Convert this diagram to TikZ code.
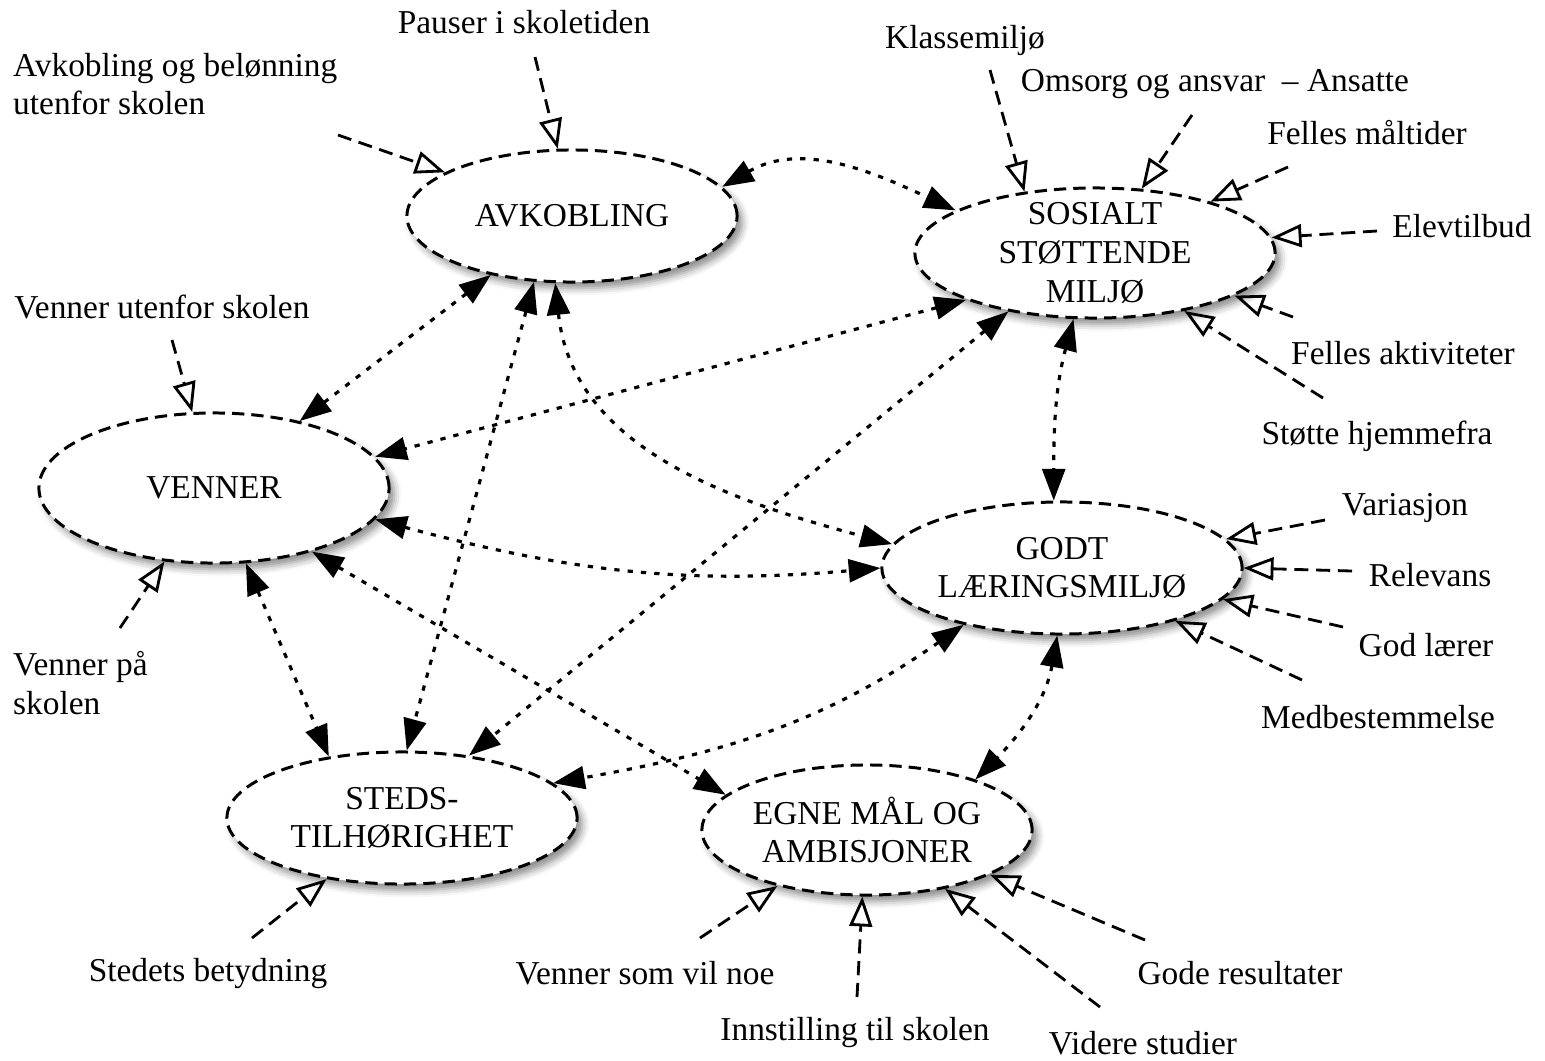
\documentclass[tikz,border=0pt]{standalone}
\usepackage{fontspec}
\setmainfont{Liberation Serif}
\usepackage{tikz}
\usetikzlibrary{arrows.meta,shapes.geometric,shadows.blur}

\begin{document}
\begin{tikzpicture}[x=0.01cm, y=0.01cm,
  font=\fontsize{9.5}{11}\selectfont,
  bubble/.style={ellipse, draw, line width=0.85pt, dash pattern=on 3.5pt off 2pt,
    fill=white, inner sep=0pt,
    blur shadow={shadow xshift=1.5pt, shadow yshift=-1.8pt, shadow blur radius=2pt, shadow opacity=45}},
  caption/.style={inner sep=0pt, align=center, font=\rmfamily\fontsize{9.5}{11}\selectfont},
  factor/.style={inner sep=1pt, align=left},
  inarrow/.style={line width=0.8pt, dash pattern=on 4pt off 2.2pt,
    -{Triangle[open, length=8.5pt, width=6.5pt]}},
  link/.style={line width=0.9pt, dash pattern=on 1.5pt off 2.3pt,
    {Triangle[length=9pt, width=6.5pt]}-{Triangle[length=9pt, width=6.5pt]}}]
\useasboundingbox (0,0) rectangle (1545,-1060);

% hovedbegreper
\node[bubble, minimum width=3.3cm, minimum height=1.32cm] (avk) at (572,-216) {};
\node[bubble, minimum width=3.6cm, minimum height=1.3cm] (sos) at (1095,-253) {};
\node[bubble, minimum width=3.5cm, minimum height=1.5cm] (venner) at (214,-488) {};
\node[bubble, minimum width=3.6cm, minimum height=1.32cm] (godt) at (1062,-568) {};
\node[bubble, minimum width=3.5cm, minimum height=1.32cm] (steds) at (402,-818) {};
\node[bubble, minimum width=3.3cm, minimum height=1.3cm] (egne) at (867,-830) {};
\node[caption] (avk-t) at (avk) {AVKOBLING};
\node[caption] (sos-t) at (sos) {SOSIALT\\STØTTENDE\\MILJØ};
\node[caption] (venner-t) at (venner) {VENNER};
\node[caption] (godt-t) at (godt) {GODT\\LÆRINGSMILJØ};
\node[caption] (steds-t) at (steds) {STEDS-\\TILHØRIGHET};
\node[caption] (egne-t) at (egne) {EGNE MÅL OG\\AMBISJONER};

% faktorer
\node[factor] (l-pauser) at (524,-22) {Pauser i skoletiden};
\node[factor, anchor=west] (l-avkbel) at (9,-84) {Avkobling og belønning\\utenfor skolen};
\node[factor] (l-klasse) at (965,-40) {Klassemiljø};
\node[factor] (l-omsorg) at (1215,-84) {Omsorg og ansvar \ – Ansatte};
\node[factor] (l-maaltid) at (1367,-133) {Felles måltider};
\node[factor] (l-elev) at (1462,-226) {Elevtilbud};
\node[factor] (l-aktiv) at (1403,-353) {Felles aktiviteter};
\node[factor] (l-hjem) at (1377,-436) {Støtte hjemmefra};
\node[factor] (l-vutenfor) at (162,-307) {Venner utenfor skolen};
\node[factor, anchor=west] (l-vskolen) at (9,-683) {Venner på\\skolen};
\node[factor] (l-var) at (1405,-508) {Variasjon};
\node[factor] (l-rel) at (1430,-575) {Relevans};
\node[factor] (l-laerer) at (1426,-645) {God lærer};
\node[factor] (l-medb) at (1378,-717) {Medbestemmelse};
\node[factor] (l-stedet) at (208,-973) {Stedets betydning};
\node[factor] (l-vvil) at (645,-973) {Venner som vil noe};
\node[factor] (l-innst) at (855,-1032) {Innstilling til skolen};
\node[factor] (l-videre) at (1143,-1043) {Videre studier};
\node[factor] (l-gode) at (1240,-973) {Gode resultater};

\coordinate (s-pauser) at (535,-57);
\coordinate (s-avkbel) at (338,-135);
\coordinate (s-klasse) at (990,-70);
\coordinate (s-omsorg) at (1192,-115);
\coordinate (s-maaltid) at (1288,-167);
\coordinate (s-elev) at (1377,-231);
\coordinate (s-aktiv) at (1293,-317);
\coordinate (s-hjem) at (1323,-398);
\coordinate (s-vutenfor) at (172,-340);
\coordinate (s-vskolen) at (120,-628);
\coordinate (s-var) at (1325,-520);
\coordinate (s-rel) at (1352,-571);
\coordinate (s-laerer) at (1343,-627);
\coordinate (s-medb) at (1302,-680);
\coordinate (s-stedet) at (252,-938);
\coordinate (s-vvil) at (700,-938);
\coordinate (s-innst) at (857,-997);
\coordinate (s-videre) at (1100,-1007);
\coordinate (s-gode) at (1145,-940);

\draw[inarrow] (s-pauser) -- (avk.102);
\draw[inarrow] (s-avkbel) -- (avk.161);
\draw[inarrow] (s-klasse) -- (sos.139);
\draw[inarrow] (s-omsorg) -- (sos.54);
\draw[inarrow] (s-maaltid) -- (sos.24);
\draw[inarrow] (s-elev) -- (sos.5);
\draw[inarrow] (s-aktiv) -- (sos.-17);
\draw[inarrow] (s-hjem) -- (sos.-33);
\draw[inarrow] (s-vutenfor) -- (venner.106);
\draw[inarrow] (s-vskolen) -- (venner.-124);
\draw[inarrow] (s-var) -- (godt.10);
\draw[inarrow] (s-rel) -- (godt.0);
\draw[inarrow] (s-laerer) -- (godt.-11);
\draw[inarrow] (s-medb) -- (godt.-25);
\draw[inarrow] (s-stedet) -- (steds.-141);
\draw[inarrow] (s-vvil) -- (egne.-148);
\draw[inarrow] (s-innst) -- (egne.-94);
\draw[inarrow] (s-videre) -- (egne.-37);
\draw[inarrow] (s-gode) -- (egne.-20);

% sammenhenger
\draw[link] (avk.11) to[out=30, in=155] (sos.163);
\draw[link] (avk.-144) -- (venner.38);
\draw[link] (avk.-120) -- (steds.86);
\draw[link] (avk.-104) to[out=-84, in=165] (godt.172);
\draw[link] (sos.-160) -- (venner.11);
\draw[link] (sos.-146) -- (steds.43);
\draw[link] (sos.-108) to[out=-105, in=90] (godt.97);
\draw[link] (venner.-11) to[out=-15, in=185] (godt.180);
\draw[link] (venner.-67) -- (steds.140);
\draw[link] (venner.-33) -- (egne.166);
\draw[link] (godt.-150) to[out=-145, in=10] (steds.13);
\draw[link] (godt.-94) to[out=-100, in=45] (egne.25);
\end{tikzpicture}
\end{document}
